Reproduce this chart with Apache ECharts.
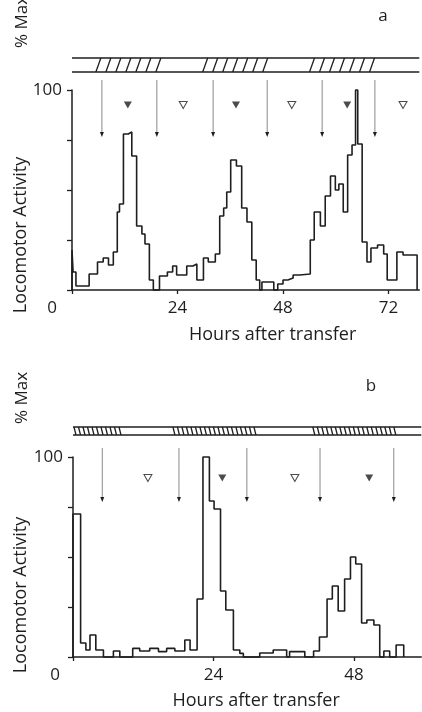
<!DOCTYPE html>
<html><head><meta charset="utf-8">
<script src="https://cdn.jsdelivr.net/npm/echarts@6/dist/echarts.min.js"></script>
<style>html,body{margin:0;padding:0;background:#fff}#c{width:422px;height:712px}</style>
</head><body><div id="c"></div>
<script>
// ---------- Panel a data (hours after transfer, % max activity) ----------
const aBinStart = [0, 0.25, 0.9, 3.9, 5.8, 7.1, 8.3, 9.4, 10.3, 10.8, 11.7, 12.8, 13.6, 14.7, 15.9, 16.6, 17.6, 18.5, 19.9, 21.7, 22.9, 23.8, 26.1, 27.5, 28.4, 29.9, 31.0, 32.6, 33.6, 34.5, 35.2, 36.1, 37.4, 38.6, 39.8, 40.9, 41.9, 42.7, 43.2, 45.9, 46.8, 48.0, 49.1, 50.3, 51.8, 54.2, 55.1, 56.5, 57.6, 58.8, 59.9, 60.7, 61.7, 62.7, 63.7, 64.5, 65.0, 66.0, 67.1, 68.0, 69.5, 70.9, 71.7, 73.9, 75.3];
const aActivity = [20, 9, 2, 8, 14, 16, 12.5, 19, 39, 43, 78, 79, 67, 32, 28, 23, 5, 0, 7, 9, 12, 7.5, 12, 13, 5, 16, 14, 18, 37, 41, 49, 65, 62, 41, 34, 15, 5, 0, 4, 0, 3, 5, 6, 7.5, 8, 25, 39, 32, 47, 57, 50, 53, 39, 67.5, 72.5, 100, 73, 24, 14, 21, 22.5, 18, 5, 19, 17.5];
const aLastEdge = 78.5;
const aDarkStart = [5.2, 29.5, 53.8];
const aDarkEnd = [20.4, 45.1, 69.0];
const aArrows = [6.8, 19.3, 32.1, 44.4, 56.9, 68.9];
const aFilledTri = [12.7, 37.3, 62.6];
const aOpenTri = [25.3, 50.0, 75.3];
const aTicks = [0, 24, 48, 72];

// ---------- Panel b data ----------
const bBinStart = [0, 1.3, 2.2, 2.9, 3.9, 5.2, 6.9, 8.0, 10.2, 11.4, 13.1, 14.6, 16.0, 17.4, 19.1, 20.0, 21.2, 22.2, 23.3, 24.1, 25.2, 26.1, 27.4, 28.5, 29.1, 31.9, 34.2, 36.5, 37.0, 39.6, 41.1, 42.1, 43.4, 44.3, 45.3, 46.4, 47.4, 48.3, 49.3, 50.2, 51.4, 52.4, 53.1, 54.1, 55.2];
const bActivity = [71.5, 7, 3.5, 11, 3.5, 0, 3, 0, 4.3, 3, 4.3, 2.7, 4.3, 3, 8.5, 3.5, 29, 100, 78, 74, 33, 23.5, 3.5, 1.8, 0, 2, 3.5, 0, 2.7, 0, 3, 10, 29, 35.5, 23, 39, 50, 46.5, 17, 18.5, 16, 0, 3, 0, 6];
const bLastEdge = 56.5;
const bDarkStart = [0, 16.9, 40.8];
const bDarkEnd = [8.2, 31.9, 55.9];
const bArrows = [5.0, 18.1, 29.7, 42.2, 54.8];
const bFilledTri = [25.5, 50.6];
const bOpenTri = [12.8, 37.9];
const bTicks = [0, 24, 48];

const yTicks = [0, 25, 50, 75, 100];

// ---------- build ----------
const INK = '#1e1e1e';
const FONT = 'Open Sans';

function steps(starts, vals, end) {
  const d = [[starts[0], 0]];
  for (let i = 0; i < starts.length; i++) d.push([starts[i], vals[i]]);
  d.push([end, 0]);
  return d;
}

function darkRender(top, bot, spacing, slant) {
  return function (params, api) {
    const p0 = api.coord([api.value(0), top]);
    const p1 = api.coord([api.value(1), bot]);
    const children = [];
    const h = p1[1] - p0[1];
    for (let x = p0[0] + 1; x + Math.abs(slant) <= p1[0]; x += spacing) {
      const shape = slant > 0
        ? { x1: x, y1: p1[1], x2: x + slant, y2: p0[1] }
        : { x1: x, y1: p0[1], x2: x - slant, y2: p1[1] };
      children.push({ type: 'line', shape, style: { stroke: INK, lineWidth: 1.3 } });
    }
    return { type: 'group', children };
  };
}

function outlineRender(top, bot) {
  return function (params, api) {
    const a0 = api.coord([api.value(0), top]);
    const a1 = api.coord([api.value(1), top]);
    const b0 = api.coord([api.value(0), bot]);
    const b1 = api.coord([api.value(1), bot]);
    return { type: 'group', children: [
      { type: 'line', shape: { x1: a0[0], y1: a0[1], x2: a1[0], y2: a1[1] }, style: { stroke: INK, lineWidth: 1.4 } },
      { type: 'line', shape: { x1: b0[0], y1: b0[1], x2: b1[0], y2: b1[1] }, style: { stroke: INK, lineWidth: 1.4 } }
    ] };
  };
}

function arrowRender(top, bot) {
  return function (params, api) {
    const t = api.coord([api.value(0), top]);
    const b = api.coord([api.value(0), bot]);
    return { type: 'group', children: [
      { type: 'line', shape: { x1: t[0], y1: t[1], x2: b[0], y2: b[1] - 3 }, style: { stroke: '#8a8a8a', lineWidth: 1 } },
      { type: 'polygon', shape: { points: [[b[0] - 2, b[1] - 5], [b[0] + 2, b[1] - 5], [b[0], b[1]]] }, style: { fill: INK } }
    ] };
  };
}

function xAxisDef(idx, max, ticks, zeroShift, namePad, nameGap) {
  return {
    type: 'value', gridIndex: idx, min: 0, max: max, interval: 24,
    axisLine: { onZero: false, lineStyle: { color: INK, width: 1.5 } },
    axisTick: { customValues: ticks, length: 4, lineStyle: { color: INK, width: 1.3 } },
    axisLabel: {
      customValues: ticks, margin: 10, fontSize: 17, fontFamily: FONT, color: INK,
      formatter: v => v === 0 ? '{z|0}' : String(v),
      rich: { z: { fontSize: 17, fontFamily: FONT, color: INK, padding: [0, zeroShift * 2, 0, 0] } }
    },
    splitLine: { show: false },
    name: 'Hours after transfer', nameLocation: 'middle', nameGap: nameGap,
    nameTextStyle: { fontSize: 18, fontFamily: FONT, color: INK, padding: [0, 0, 0, namePad] }
  };
}

function yAxisDef(idx) {
  return {
    type: 'value', gridIndex: idx, min: 0, max: 100, interval: 25,
    axisLine: { show: true, lineStyle: { color: INK, width: 1.5 } },
    axisTick: { show: true, length: 5, lineStyle: { color: INK, width: 1.3 } },
    axisLabel: { margin: 10, fontSize: 17, fontFamily: FONT, color: INK,
      formatter: v => v === 100 ? '100' : '' },
    splitLine: { show: false }
  };
}

const tri = (hs, y) => hs.map(h => [h, y]);

const option = {
  animation: false,
  backgroundColor: '#fff',
  grid: [
    { left: 72, top: 90, width: 347.3, height: 200 },
    { left: 73, top: 457, width: 348.3, height: 200 }
  ],
  xAxis: [
    xAxisDef(0, 79, aTicks, 20, 54, 36),
    xAxisDef(1, 59.5, bTicks, 18, 18, 35)
  ],
  yAxis: [yAxisDef(0), yAxisDef(1)],
  series: [
    { type: 'line', xAxisIndex: 0, yAxisIndex: 0, step: 'end', symbol: 'none', clip: false,
      lineStyle: { color: INK, width: 1.6 }, data: steps(aBinStart, aActivity, aLastEdge) },
    { type: 'line', xAxisIndex: 1, yAxisIndex: 1, step: 'end', symbol: 'none', clip: false,
      lineStyle: { color: INK, width: 1.6 }, data: steps(bBinStart, bActivity, bLastEdge) },
    { type: 'custom', xAxisIndex: 0, yAxisIndex: 0, renderItem: outlineRender(116, 109), data: [[0, 79]] },
    { type: 'custom', xAxisIndex: 1, yAxisIndex: 1, renderItem: outlineRender(115, 111), data: [[0, 59.5]] },
    { type: 'custom', xAxisIndex: 0, yAxisIndex: 0, renderItem: darkRender(116, 109, 10, 5),
      data: aDarkStart.map((s, i) => [s, aDarkEnd[i]]) },
    { type: 'custom', xAxisIndex: 1, yAxisIndex: 1, renderItem: darkRender(115, 111, 4.5, -2),
      data: bDarkStart.map((s, i) => [s, bDarkEnd[i]]) },
    { type: 'custom', xAxisIndex: 0, yAxisIndex: 0, renderItem: arrowRender(105, 76.5), data: aArrows.map(h => [h]) },
    { type: 'custom', xAxisIndex: 1, yAxisIndex: 1, renderItem: arrowRender(104.5, 77.5), data: bArrows.map(h => [h]) },
    { type: 'scatter', xAxisIndex: 0, yAxisIndex: 0, symbol: 'triangle', symbolRotate: 180, symbolSize: [8, 7],
      itemStyle: { color: INK }, data: tri(aFilledTri, 92.5) },
    { type: 'scatter', xAxisIndex: 0, yAxisIndex: 0, symbol: 'triangle', symbolRotate: 180, symbolSize: [8, 7],
      itemStyle: { color: '#fff', borderColor: INK, borderWidth: 1 }, data: tri(aOpenTri, 92.5) },
    { type: 'scatter', xAxisIndex: 1, yAxisIndex: 1, symbol: 'triangle', symbolRotate: 180, symbolSize: [8, 7],
      itemStyle: { color: INK }, data: tri(bFilledTri, 89.5) },
    { type: 'scatter', xAxisIndex: 1, yAxisIndex: 1, symbol: 'triangle', symbolRotate: 180, symbolSize: [8, 7],
      itemStyle: { color: '#fff', borderColor: INK, borderWidth: 1 }, data: tri(bOpenTri, 89.5) }
  ],
  graphic: [
    { type: 'text', x: 383, y: 16, style: { text: 'a', fontSize: 17, fontFamily: FONT, fill: INK, align: 'center', verticalAlign: 'middle' } },
    { type: 'text', x: 371, y: 386, style: { text: 'b', fontSize: 17, fontFamily: FONT, fill: INK, align: 'center', verticalAlign: 'middle' } },
    { type: 'text', x: 22, y: 22, rotation: Math.PI / 2, style: { text: '% Max', fontSize: 17, fontFamily: FONT, fill: INK, align: 'center', verticalAlign: 'middle' } },
    { type: 'text', x: 21, y: 235, rotation: Math.PI / 2, style: { text: 'Locomotor Activity', fontSize: 18, fontFamily: FONT, fill: INK, align: 'center', verticalAlign: 'middle' } },
    { type: 'text', x: 22, y: 398, rotation: Math.PI / 2, style: { text: '% Max', fontSize: 17, fontFamily: FONT, fill: INK, align: 'center', verticalAlign: 'middle' } },
    { type: 'text', x: 21, y: 595, rotation: Math.PI / 2, style: { text: 'Locomotor Activity', fontSize: 18, fontFamily: FONT, fill: INK, align: 'center', verticalAlign: 'middle' } }
  ]
};

const chart = echarts.init(document.getElementById('c'), null, { renderer: 'canvas' });
chart.setOption(option);
</script>
</body></html>
